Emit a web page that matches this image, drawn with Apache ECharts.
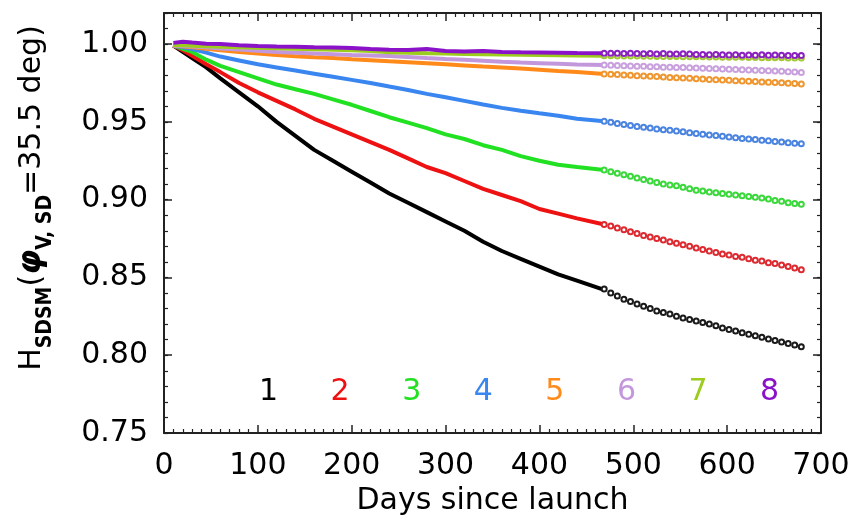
<!DOCTYPE html>
<html>
<head>
<meta charset="utf-8">
<title>H_SDSM vs days since launch</title>
<script src="https://cdn.jsdelivr.net/npm/echarts@6/dist/echarts.min.js"></script>
<style>
  html, body { margin: 0; padding: 0; background: #fff; }
  #chart { width: 855px; height: 524px; }
</style>
</head>
<body>
<div id="chart"></div>
<script>
// detector numbers and colours
var detectors = ['1', '2', '3', '4', '5', '6', '7', '8']
var colors = ['#000000', '#ee1111', '#22e022', '#3a86f0', '#ff8a1a', '#c397dc', '#9ccc1c', '#8a12c8']
var dotColors = ['#1a1a1a', '#dd2a30', '#3ad83a', '#4a84e0', '#f0962e', '#c9a0de', '#a2c832', '#8a20c0']

// days for the solid (measured) part and the dotted (predicted) part
var solidDays = [10, 20, 30, 45, 60, 80, 100, 120, 140, 160, 180, 200, 220, 240, 260, 280, 300, 320, 340, 360, 380, 400, 420, 440, 469]
var dotDays = [469, 476, 483, 490, 497, 504, 511, 518, 525, 532, 539, 546, 553, 560, 567, 574, 581, 588, 595, 602, 609, 616, 623, 630, 637, 644, 651, 658, 665, 672, 679]

var solid1 = [0.999, 0.995, 0.991, 0.985, 0.978, 0.969, 0.960, 0.950, 0.941, 0.932, 0.925, 0.918, 0.911, 0.904, 0.898, 0.892, 0.886, 0.880, 0.873, 0.867, 0.862, 0.857, 0.852, 0.848, 0.842]
var solid2 = [0.999, 0.996, 0.9925, 0.987, 0.982, 0.975, 0.969, 0.9635, 0.958, 0.952, 0.947, 0.942, 0.937, 0.932, 0.9265, 0.921, 0.917, 0.912, 0.907, 0.903, 0.899, 0.894, 0.891, 0.888, 0.884]
var solid3 = [0.999, 0.997, 0.995, 0.990, 0.986, 0.982, 0.978, 0.974, 0.971, 0.968, 0.9645, 0.961, 0.957, 0.953, 0.9495, 0.946, 0.942, 0.939, 0.935, 0.932, 0.928, 0.925, 0.9225, 0.921, 0.919]
var solid4 = [0.999, 0.998, 0.9968, 0.9945, 0.992, 0.9895, 0.987, 0.985, 0.983, 0.981, 0.979, 0.977, 0.975, 0.9727, 0.9705, 0.968, 0.9658, 0.9635, 0.9612, 0.959, 0.9572, 0.9555, 0.954, 0.952, 0.9504]
var solid5 = [0.999, 0.9985, 0.998, 0.997, 0.996, 0.995, 0.994, 0.993, 0.9922, 0.9915, 0.991, 0.9903, 0.9897, 0.989, 0.9884, 0.9877, 0.987, 0.9863, 0.9856, 0.985, 0.9843, 0.9835, 0.9827, 0.982, 0.9808]
var solid6 = [0.999, 0.9988, 0.9985, 0.998, 0.9972, 0.9965, 0.9958, 0.995, 0.9945, 0.994, 0.9935, 0.993, 0.9927, 0.9923, 0.9917, 0.991, 0.9904, 0.990, 0.9893, 0.9886, 0.9881, 0.9877, 0.9873, 0.9869, 0.9865]
var solid7 = [0.9995, 0.9993, 0.999, 0.9987, 0.9983, 0.998, 0.9977, 0.9973, 0.997, 0.9967, 0.9963, 0.996, 0.9955, 0.9948, 0.9945, 0.9942, 0.994, 0.9937, 0.9935, 0.9933, 0.9931, 0.993, 0.9928, 0.9927, 0.9925]
var solid8 = [1.0008, 1.0015, 1.001, 1.0003, 1.0, 0.9992, 0.9988, 0.9985, 0.9983, 0.998, 0.9978, 0.9975, 0.9968, 0.9963, 0.9962, 0.9968, 0.9955, 0.9952, 0.9956, 0.9949, 0.9947, 0.9946, 0.9945, 0.9943, 0.9942]

var dots1 = [0.8425, 0.840, 0.838, 0.836, 0.8345, 0.833, 0.8315, 0.830, 0.8285, 0.8275, 0.8265, 0.825, 0.824, 0.823, 0.822, 0.821, 0.820, 0.819, 0.8175, 0.8165, 0.8155, 0.8145, 0.8135, 0.8125, 0.8115, 0.8105, 0.8095, 0.8085, 0.8075, 0.8065, 0.8055]
var dots2 = [0.884, 0.883, 0.8818, 0.8806, 0.8794, 0.8782, 0.877, 0.876, 0.875, 0.874, 0.873, 0.872, 0.871, 0.870, 0.869, 0.868, 0.867, 0.866, 0.865, 0.8645, 0.8635, 0.863, 0.862, 0.861, 0.8605, 0.8595, 0.859, 0.858, 0.857, 0.856, 0.855]
var dots3 = [0.919, 0.918, 0.917, 0.916, 0.915, 0.914, 0.913, 0.912, 0.911, 0.910, 0.9095, 0.909, 0.908, 0.907, 0.906, 0.9055, 0.905, 0.9045, 0.904, 0.9035, 0.903, 0.9025, 0.902, 0.9015, 0.901, 0.9005, 0.8995, 0.899, 0.898, 0.8975, 0.897]
var dots4 = [0.9504, 0.9497, 0.949, 0.9483, 0.9477, 0.947, 0.9465, 0.946, 0.9455, 0.945, 0.9447, 0.9442, 0.9436, 0.943, 0.9425, 0.942, 0.9416, 0.9412, 0.9408, 0.9403, 0.9398, 0.9394, 0.939, 0.9386, 0.9382, 0.9378, 0.9374, 0.937, 0.9366, 0.9362, 0.936]
var dots5 = [0.9808, 0.9806, 0.9804, 0.9802, 0.980, 0.9797, 0.9795, 0.9793, 0.9791, 0.9788, 0.9786, 0.9784, 0.9782, 0.978, 0.9778, 0.9775, 0.9773, 0.9771, 0.9769, 0.9767, 0.9765, 0.9763, 0.9761, 0.9759, 0.9757, 0.9755, 0.9753, 0.9751, 0.9749, 0.9746, 0.9744]
var dots6 = [0.9865, 0.9864, 0.9862, 0.9861, 0.986, 0.9858, 0.9857, 0.9855, 0.9854, 0.9852, 0.9851, 0.985, 0.9849, 0.9848, 0.9846, 0.9845, 0.9843, 0.9841, 0.984, 0.9838, 0.9837, 0.9835, 0.9834, 0.9832, 0.9831, 0.9829, 0.9827, 0.9825, 0.9823, 0.982, 0.9818]
var dots7 = [0.9925, 0.9925, 0.9924, 0.9924, 0.9923, 0.9923, 0.9922, 0.9922, 0.9921, 0.9921, 0.992, 0.992, 0.9919, 0.9919, 0.9918, 0.9918, 0.9917, 0.9917, 0.9916, 0.9916, 0.9915, 0.9915, 0.9914, 0.9914, 0.9913, 0.9913, 0.9912, 0.9912, 0.9911, 0.9911, 0.991]
var dots8 = [0.9942, 0.9941, 0.9942, 0.994, 0.9941, 0.994, 0.9938, 0.994, 0.9936, 0.9939, 0.9937, 0.9936, 0.9938, 0.9936, 0.9933, 0.9934, 0.9932, 0.9934, 0.9932, 0.993, 0.9931, 0.9929, 0.993, 0.9928, 0.9931, 0.9929, 0.993, 0.9928, 0.9927, 0.9927, 0.9927]

var solidValues = [solid1, solid2, solid3, solid4, solid5, solid6, solid7, solid8]
var dotValues = [dots1, dots2, dots3, dots4, dots5, dots6, dots7, dots8]

// y tick labels
var yTickLabels = ['0.75', '0.80', '0.85', '0.90', '0.95', '1.00']

function pairs(days, values) {
  return days.map(function (d, i) { return [d, values[i]] })
}

var font = 'DejaVu Sans'
var series = []
detectors.forEach(function (name, i) {
  // measured part, thick solid line
  series.push({
    name: name,
    type: 'line',
    data: pairs(solidDays, solidValues[i]),
    showSymbol: false,
    smooth: false,
    lineStyle: { color: colors[i], width: 4 },
    itemStyle: { color: colors[i] },
    z: 2 + i
  })
  // extrapolated part, small open circles
  series.push({
    name: name,
    type: 'line',
    data: pairs(dotDays, dotValues[i]),
    symbol: 'emptyCircle',
    symbolSize: 5,
    showSymbol: true,
    lineStyle: { opacity: 0 },
    itemStyle: { color: dotColors[i], borderColor: dotColors[i], borderWidth: 1.6 },
    z: 2 + i
  })
})

var axisLine = { show: true, lineStyle: { color: '#222', width: 2 } }

var chart = echarts.init(document.getElementById('chart'), null, { renderer: 'canvas' })
chart.setOption({
  animation: false,
  backgroundColor: '#fff',
  grid: { left: 164, right: 34, top: 13, bottom: 91, containLabel: false },
  legend: {
    data: detectors.map(function (n, i) {
      return { name: n, textStyle: { color: colors[i] } }
    }),
    left: 253,
    top: 377,
    padding: 0,
    itemWidth: 0,
    itemHeight: 0,
    itemGap: 46.5,
    selectedMode: false,
    textStyle: { fontFamily: font, fontSize: 30 }
  },
  xAxis: [
    {
      type: 'value',
      min: 0,
      max: 700,
      interval: 100,
      position: 'bottom',
      axisLine: axisLine,
      axisTick: { show: true, inside: true, length: 8, lineStyle: { color: '#222', width: 1.5 } },
      minorTick: { show: true, splitNumber: 10, length: 4, lineStyle: { color: '#222', width: 1.2 } },
      splitLine: { show: false },
      axisLabel: { margin: 18, color: '#000', fontFamily: font, fontSize: 30 },
      name: 'Days since launch',
      nameLocation: 'middle',
      nameGap: 48,
      nameTextStyle: { color: '#000', fontFamily: font, fontSize: 30 }
    },
    {
      type: 'value',
      min: 0,
      max: 700,
      interval: 100,
      position: 'top',
      axisLine: axisLine,
      axisTick: { show: true, inside: true, length: 8, lineStyle: { color: '#222', width: 1.5 } },
      minorTick: { show: true, splitNumber: 10, length: 4, lineStyle: { color: '#222', width: 1.2 } },
      splitLine: { show: false },
      axisLabel: { show: false }
    }
  ],
  yAxis: [
    {
      type: 'value',
      min: 0.75,
      max: 1.02,
      interval: 0.05,
      position: 'left',
      axisLine: axisLine,
      axisTick: { show: true, inside: true, length: 8, lineStyle: { color: '#222', width: 1.5 } },
      splitLine: { show: false },
      axisLabel: {
        margin: 16,
        color: '#000',
        fontFamily: font,
        fontSize: 30,
        formatter: function (v) {
          var s = v.toFixed(2)
          return yTickLabels.indexOf(s) >= 0 && Math.abs(v - parseFloat(s)) < 1e-6 ? s : ''
        }
      },
      name: '{t|H}{sub|SDSM}{t|(}{phi|φ}{sub|V, SD}{t|=35.5 deg)}',
      nameLocation: 'middle',
      nameRotate: 90,
      nameGap: 108,
      nameTextStyle: {
        color: '#000',
        padding: [0, 0, 0, 50],
        rich: {
          t: { fontFamily: font, fontSize: 30, lineHeight: 48, verticalAlign: 'middle' },
          sub: { fontFamily: 'DejaVu Sans Condensed', fontWeight: 'bold', fontSize: 21, lineHeight: 21, verticalAlign: 'bottom' },
          phi: { fontFamily: font, fontSize: 32, fontWeight: 'bold', fontStyle: 'italic', lineHeight: 48, verticalAlign: 'middle' }
        }
      }
    },
    {
      // minor ticks on the left side
      type: 'value',
      min: 0.75,
      max: 1.02,
      interval: 0.01,
      position: 'left',
      axisLine: { show: false },
      axisTick: { show: true, inside: true, length: 4, lineStyle: { color: '#222', width: 1.2 } },
      splitLine: { show: false },
      axisLabel: { show: false }
    },
    {
      type: 'value',
      min: 0.75,
      max: 1.02,
      interval: 0.05,
      position: 'right',
      axisLine: axisLine,
      axisTick: { show: true, inside: true, length: 8, lineStyle: { color: '#222', width: 1.5 } },
      splitLine: { show: false },
      axisLabel: { show: false }
    },
    {
      type: 'value',
      min: 0.75,
      max: 1.02,
      interval: 0.01,
      position: 'right',
      axisLine: { show: false },
      axisTick: { show: true, inside: true, length: 4, lineStyle: { color: '#222', width: 1.2 } },
      splitLine: { show: false },
      axisLabel: { show: false }
    }
  ],
  series: series
})
</script>
</body>
</html>
